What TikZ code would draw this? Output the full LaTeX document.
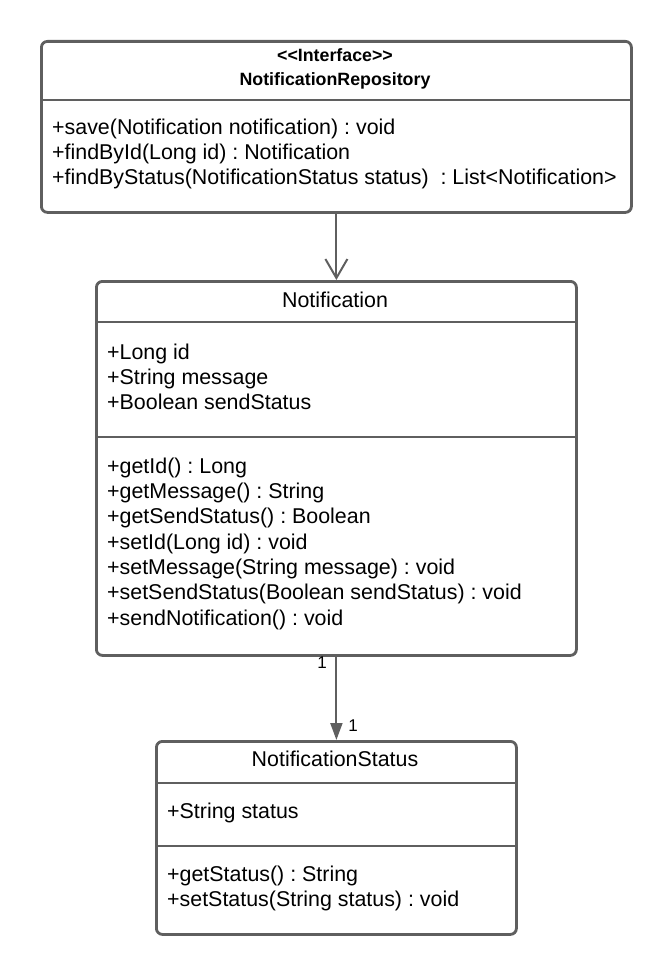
\documentclass[tikz,border=0pt]{standalone}
\usepackage{fontspec}
\setmainfont{Liberation Sans}
\usetikzlibrary{arrows.meta}
\definecolor{lg}{RGB}{95,95,95}
\frenchspacing
\begin{document}
\begin{tikzpicture}[x=1pt,y=-1pt,
  box/.style={draw=lg, line width=2.8pt, rounded corners=6pt, inner sep=0pt, anchor=north west, fill=white},
  div/.style={draw=lg, line width=2.8pt},
  txt/.style={anchor=base west, inner sep=0pt, font=\fontsize{21.4}{25}\selectfont},
  ttl/.style={anchor=base, inner sep=0pt, font=\fontsize{21.4}{25}\selectfont},
  hdr/.style={anchor=base, inner sep=0pt, font=\fontsize{17.8}{21}\selectfont\bfseries},
  conn/.style={draw=lg, line width=2pt},
  mult/.style={inner sep=0pt, font=\fontsize{17}{20}\selectfont}]
\useasboundingbox (0,0) rectangle (670,974);
% boxes
\node[box, minimum width=590pt, minimum height=171pt] (repo) at (40,40) {};
\node[box, minimum width=480pt, minimum height=374pt] (notif) at (95,280) {};
\node[box, minimum width=360pt, minimum height=193pt] (status) at (155,740) {};
% dividers
\draw[div] (40,100) -- (630,100);
\draw[div] (95,322) -- (575,322);
\draw[div] (95,437) -- (575,437);
\draw[div] (155,783) -- (515,783);
\draw[div] (155,846) -- (515,846);
% repository text
\node[hdr] (rh1) at (335,62) {<{}<Interface>{}>};
\node[hdr] (rh2) at (335,85) {NotificationRepository};
\node[txt] (r1) at (52,134) {+save(Notification notification) : void};
\node[txt] (r2) at (52,159) {+findById(Long id) : Notification};
\node[txt] (r3) at (52,184) {+findByStatus(NotificationStatus status)\ \ : List<Notification>};
% notification text
\node[ttl] (nt) at (335,307) {Notification};
\node[txt] (na1) at (107,359) {+Long id};
\node[txt] (na2) at (107,384) {+String message};
\node[txt] (na3) at (107,409) {+Boolean sendStatus};
\node[txt] (nm1) at (107,473) {+getId() : Long};
\node[txt] (nm2) at (107,498) {+getMessage() : String};
\node[txt] (nm3) at (107,523) {+getSendStatus() : Boolean};
\node[txt] (nm4) at (107,549) {+setId(Long id) : void};
\node[txt] (nm5) at (107,574) {+setMessage(String message) : void};
\node[txt] (nm6) at (107,599) {+setSendStatus(Boolean sendStatus) : void};
\node[txt] (nm7) at (107,625) {+sendNotification() : void};
% status text
\node[ttl] (st) at (335,766) {NotificationStatus};
\node[txt] (sa1) at (167,818) {+String status};
\node[txt] (sm1) at (167,881) {+getStatus() : String};
\node[txt] (sm2) at (167,906) {+setStatus(String status) : void};
% connectors
\draw[conn, -{Straight Barb[length=19pt,width=22pt,line width=2pt]}] (repo.south) -- (notif.north);
\draw[conn, -{Triangle[length=17pt,width=12pt]}] (notif.south) -- (status.north);
\node[mult] (m1) at (322,663) {1};
\node[mult] (m2) at (353,726) {1};
\end{tikzpicture}
\end{document}
